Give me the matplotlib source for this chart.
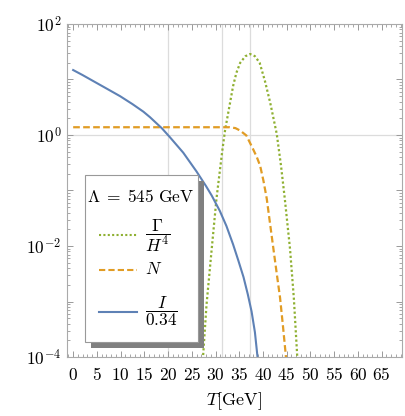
import math
import matplotlib
matplotlib.use("Agg")
import matplotlib.pyplot as plt
from matplotlib.ticker import MultipleLocator, LogLocator, FixedLocator, FuncFormatter, NullFormatter
from matplotlib.lines import Line2D
from matplotlib.patches import Rectangle

plt.rcParams['mathtext.fontset'] = 'cm'
plt.rcParams['font.family'] = 'DejaVu Serif'

# I / 0.34
T_I = [0, 2, 4.3, 7, 9.9, 12.5, 14.8, 16.2, 18.7, 20.4, 23.2, 26.0, 28.0, 29.2,
       30.9, 32.3, 33.7, 34.8, 35.9, 36.8, 37.6, 38.3, 38.8, 39.2]
I_vals = [14.8, 12.0, 9.3, 6.9, 5.0, 3.6, 2.63, 2.09, 1.32, 0.91, 0.48, 0.22, 0.12,
          0.081, 0.043, 0.0229, 0.0107, 0.0055, 0.00275, 0.00135, 0.00066, 0.00028,
          0.00011, 0.00005]

# N
T_N = [0, 33.0, 34.2, 35.2, 36.5, 37.9, 38.7, 39.4, 40.1, 40.8, 41.5, 42.2, 42.9,
       43.6, 44.2, 44.8, 45.1]
N_vals = [1.38, 1.38, 1.33, 1.20, 0.98, 0.56, 0.40, 0.28, 0.15, 0.071, 0.025, 0.0089,
          0.0032, 0.00117, 0.00037, 0.00011, 0.00005]

# Gamma / H^4
T_G = [27.2, 27.4, 28.1, 29.2, 30.2, 31.4, 32.0, 32.7, 33.7, 34.4, 35.2, 36.3, 37.3,
       38.3, 39.3, 40.4, 41.5, 42.9, 43.8, 44.6, 45.7, 46.5, 47.2, 47.4]
G_vals = [5e-5, 1.1e-4, 8.7e-4, 0.0089, 0.071, 0.5, 1.2, 2.57, 7.6, 13.2, 20, 26.3, 28.8,
          26.3, 20, 9.5, 3.9, 1.05, 0.28, 0.071, 0.0089, 0.00117, 1.1e-4, 5e-5]

grid_T = [20, 31.4, 37.3]
x_ticks = list(range(0, 70, 5))

blue = '#5e81b5'
orange = '#e19c24'
green = '#8fb032'

W, H = 405, 416
fig = plt.figure(figsize=(W / 100, H / 100), dpi=100)
ax = fig.add_axes([67 / W, 1 - 357 / H, 335 / W, 333 / H])

for t in grid_T:
    ax.axvline(t, color='#dcdcdc', lw=0.9, zorder=0)
ax.axhline(1, color='#dcdcdc', lw=0.9, zorder=0)

ax.plot(T_G, G_vals, color=green, lw=1.6, ls=(0, (1, 1.1)))
ax.plot(T_N, N_vals, color=orange, lw=1.6, ls=(0, (3, 1.5)))
ax.plot(T_I, I_vals, color=blue, lw=1.5)

ax.set_yscale('log')
ax.set_xlim(-1.3, 69.3)
ax.set_ylim(1e-4, 1e2)

ax.xaxis.set_major_locator(FixedLocator(x_ticks))
ax.xaxis.set_minor_locator(MultipleLocator(1))
ax.xaxis.set_major_formatter(FuncFormatter(lambda v, p: r'$%d$' % v))
ax.yaxis.set_major_locator(LogLocator(base=10, numticks=20))
ax.yaxis.set_minor_locator(LogLocator(base=10, subs=range(2, 10), numticks=20))
ax.yaxis.set_minor_formatter(NullFormatter())

def ylab(v, p):
    e = int(round(math.log10(v)))
    if e % 2 == 0:
        return r'$10^{%d}$' % e
    return ''
ax.yaxis.set_major_formatter(FuncFormatter(ylab))

ax.tick_params(which='both', direction='in', top=True, right=True, color='#999999',
               labelsize=12.5, labelcolor='black')
ax.tick_params(which='major', length=4.5, width=0.7)
ax.tick_params(which='minor', length=2.3, width=0.6)
ax.tick_params(axis='x', pad=7)
ax.tick_params(axis='y', pad=4)
for s in ax.spines.values():
    s.set_color('#aaaaaa')
    s.set_linewidth(0.8)

ax.set_xlabel(r'$T[\mathrm{GeV}]$', fontsize=13, labelpad=5)

# legend box with shadow, drawn in pixel positions
def fx(x):
    return x / W

def fy(y):
    return 1 - y / H

bx0, by0, bx1, by1 = 85, 175, 198, 342
fig.add_artist(Rectangle((fx(bx0 + 6), fy(by1 + 6)), (bx1 - bx0) / W, (by1 - by0) / H,
                         transform=fig.transFigure, facecolor='#808080', edgecolor='none', zorder=5))
fig.add_artist(Rectangle((fx(bx0), fy(by1)), (bx1 - bx0) / W, (by1 - by0) / H,
                         transform=fig.transFigure, facecolor='white', edgecolor='#999999',
                         lw=0.8, zorder=6))

fig.text(fx(140.5), fy(198), r'$\Lambda\;=\;545\ \mathrm{GeV}$', fontsize=12.5,
         ha='center', va='center', zorder=7)
entries = [(235, green, (0, (1, 1.1)), r'$\dfrac{\Gamma}{H^4}$', 236),
           (270, orange, (0, (3, 1.5)), r'$N$', 270),
           (312, blue, '-', r'$\dfrac{I}{0.34}$', 311)]
for ly, c, ls, lab, ty in entries:
    fig.add_artist(Line2D([fx(99), fx(137)], [fy(ly), fy(ly)], color=c, lw=1.5, ls=ls,
                          transform=fig.transFigure, zorder=7))
    fig.text(fx(145), fy(ty), lab, fontsize=12.5, ha='left', va='center', zorder=7)

fig.savefig('out.png', dpi=100)
